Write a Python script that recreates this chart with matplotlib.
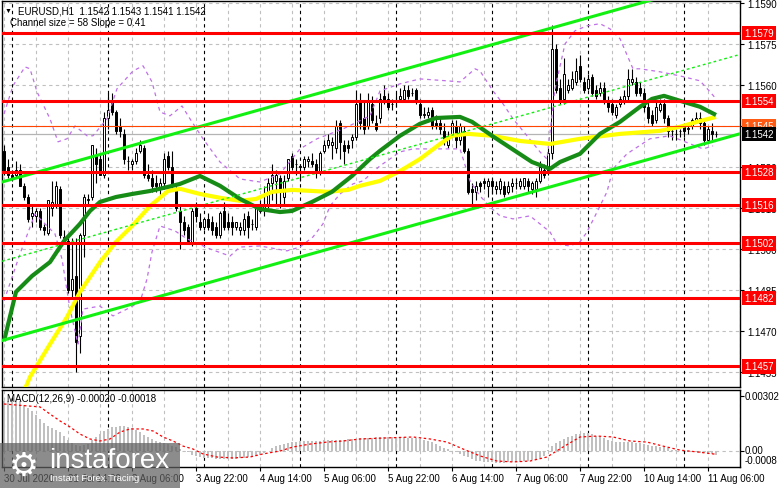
import numpy as np
import matplotlib
matplotlib.use("Agg")
import matplotlib.pyplot as plt
from matplotlib.transforms import blended_transform_factory
from matplotlib.patches import Rectangle

plt.rcParams['font.family'] = ['Liberation Sans', 'DejaVu Sans']

W, H = 781, 489

# EURUSD H1 candles, bar 0 = 30 Jul 22:00 ... bar 178 = 11 Aug 08:00
opens = [1.1536, 1.1530, 1.1527, 1.1527, 1.1529, 1.1523, 1.1519, 1.1512, 1.1512, 1.1514,
         1.1508, 1.1506, 1.1515, 1.1516, 1.1522, 1.1504, 1.1503, 1.1485, 1.1490, 1.1468,
         1.1505, 1.1518, 1.1519, 1.1534, 1.1533, 1.1527, 1.1548, 1.1554, 1.1550, 1.1545,
         1.1542, 1.1532, 1.1531, 1.1532, 1.1536, 1.1537, 1.1527, 1.1526, 1.1524, 1.1522,
         1.1524, 1.1534, 1.1530, 1.1522, 1.1514, 1.1510, 1.1508, 1.1502, 1.1515, 1.1510,
         1.1508, 1.1511, 1.1510, 1.1508, 1.1505, 1.1514, 1.1510, 1.1510, 1.1508, 1.1507,
         1.1507, 1.1512, 1.1509, 1.1508, 1.1514, 1.1515, 1.1516, 1.1524, 1.1525, 1.1526,
         1.1519, 1.1526, 1.1534, 1.1531, 1.1530, 1.1530, 1.1532, 1.1532, 1.1531, 1.1528,
         1.1536, 1.1538, 1.1538, 1.1537, 1.1546, 1.1538, 1.1538, 1.1540, 1.1541, 1.1554,
         1.1548, 1.1545, 1.1553, 1.1546, 1.1548, 1.1556, 1.1555, 1.1553, 1.1554, 1.1555,
         1.1555, 1.1558, 1.1557, 1.1558, 1.1553, 1.1549, 1.1549, 1.1551, 1.1546, 1.1546,
         1.1543, 1.1538, 1.1542, 1.1545, 1.1540, 1.1543, 1.1536, 1.1522, 1.1521, 1.1524,
         1.1525, 1.1523, 1.1525, 1.1522, 1.1522, 1.1523, 1.1521, 1.1523, 1.1524, 1.1523,
         1.1523, 1.1525, 1.1522, 1.1522, 1.1525, 1.1529, 1.1529, 1.1535, 1.1573, 1.1559,
         1.1555, 1.1558, 1.1559, 1.1561, 1.1567, 1.1561, 1.1559, 1.1563, 1.1558, 1.1557,
         1.1559, 1.1554, 1.1553, 1.1549, 1.1553, 1.1554, 1.1556, 1.1561, 1.1561, 1.1559,
         1.1557, 1.1552, 1.1549, 1.1547, 1.1551, 1.1553, 1.1548, 1.1543, 1.1542, 1.1543,
         1.1545, 1.1544, 1.1545, 1.1547, 1.1548, 1.1546, 1.1540, 1.1543, 1.1542]
highs = [1.1538, 1.1533, 1.1529, 1.1532, 1.1531, 1.1524, 1.1520, 1.1516, 1.1515, 1.1515,
         1.1509, 1.1518, 1.1525, 1.1525, 1.1523, 1.1507, 1.1504, 1.1504, 1.1504, 1.1506,
         1.1520, 1.1520, 1.1538, 1.1537, 1.1535, 1.1550, 1.1557, 1.1557, 1.1551, 1.1548,
         1.1544, 1.1534, 1.1533, 1.1537, 1.1540, 1.1538, 1.1531, 1.1529, 1.1527, 1.1526,
         1.1535, 1.1536, 1.1536, 1.1524, 1.1516, 1.1512, 1.1509, 1.1515, 1.1517, 1.1513,
         1.1511, 1.1513, 1.1512, 1.1510, 1.1514, 1.1517, 1.1513, 1.1512, 1.1510, 1.1510,
         1.1513, 1.1514, 1.1511, 1.1516, 1.1518, 1.1523, 1.1526, 1.1531, 1.1529, 1.1527,
         1.1527, 1.1533, 1.1535, 1.1533, 1.1531, 1.1534, 1.1534, 1.1535, 1.1533, 1.1536,
         1.1540, 1.1542, 1.1541, 1.1547, 1.1547, 1.1540, 1.1540, 1.1542, 1.1558, 1.1557,
         1.1554, 1.1557, 1.1556, 1.1549, 1.1557, 1.1560, 1.1557, 1.1555, 1.1557, 1.1559,
         1.1560, 1.1560, 1.1559, 1.1559, 1.1555, 1.1552, 1.1552, 1.1552, 1.1549, 1.1548,
         1.1546, 1.1543, 1.1547, 1.1547, 1.1546, 1.1545, 1.1537, 1.1524, 1.1525, 1.1525,
         1.1526, 1.1526, 1.1526, 1.1525, 1.1526, 1.1525, 1.1525, 1.1526, 1.1526, 1.1526,
         1.1526, 1.1526, 1.1525, 1.1526, 1.1532, 1.1531, 1.1537, 1.1582, 1.1575, 1.1562,
         1.1570, 1.1562, 1.1565, 1.1570, 1.1571, 1.1563, 1.1564, 1.1564, 1.1560, 1.1561,
         1.1561, 1.1556, 1.1555, 1.1553, 1.1556, 1.1558, 1.1566, 1.1566, 1.1563, 1.1561,
         1.1559, 1.1554, 1.1551, 1.1554, 1.1555, 1.1555, 1.1549, 1.1545, 1.1544, 1.1544,
         1.1546, 1.1546, 1.1548, 1.1550, 1.1550, 1.1548, 1.1545, 1.1546, 1.1543]
lows = [1.1527, 1.1526, 1.1525, 1.1526, 1.1523, 1.1518, 1.1510, 1.1508, 1.1510, 1.1507,
        1.1505, 1.1505, 1.1512, 1.1515, 1.1504, 1.1502, 1.1484, 1.1482, 1.1455, 1.1462,
        1.1497, 1.1516, 1.1518, 1.1524, 1.1527, 1.1526, 1.1544, 1.1549, 1.1542, 1.1541,
        1.1531, 1.1529, 1.1529, 1.1531, 1.1535, 1.1526, 1.1525, 1.1521, 1.1521, 1.1520,
        1.1522, 1.1529, 1.1522, 1.1514, 1.1500, 1.1505, 1.1503, 1.1501, 1.1510, 1.1507,
        1.1507, 1.1507, 1.1505, 1.1504, 1.1504, 1.1507, 1.1507, 1.1505, 1.1507, 1.1505,
        1.1505, 1.1504, 1.1507, 1.1507, 1.1513, 1.1512, 1.1515, 1.1518, 1.1516, 1.1515,
        1.1516, 1.1525, 1.1529, 1.1527, 1.1525, 1.1529, 1.1530, 1.1530, 1.1526, 1.1527,
        1.1535, 1.1537, 1.1533, 1.1535, 1.1533, 1.1531, 1.1535, 1.1537, 1.1540, 1.1544,
        1.1542, 1.1544, 1.1546, 1.1543, 1.1546, 1.1553, 1.1551, 1.1551, 1.1552, 1.1554,
        1.1554, 1.1555, 1.1556, 1.1553, 1.1548, 1.1548, 1.1548, 1.1544, 1.1544, 1.1542,
        1.1538, 1.1537, 1.1541, 1.1537, 1.1538, 1.1535, 1.1520, 1.1515, 1.1518, 1.1521,
        1.1522, 1.1519, 1.1520, 1.1520, 1.1520, 1.1519, 1.1520, 1.1521, 1.1522, 1.1522,
        1.1522, 1.1521, 1.1520, 1.1519, 1.1524, 1.1526, 1.1527, 1.1533, 1.1557, 1.1553,
        1.1553, 1.1557, 1.1558, 1.1560, 1.1561, 1.1557, 1.1558, 1.1556, 1.1555, 1.1556,
        1.1553, 1.1550, 1.1549, 1.1548, 1.1552, 1.1553, 1.1554, 1.1560, 1.1556, 1.1556,
        1.1550, 1.1546, 1.1545, 1.1546, 1.1550, 1.1546, 1.1541, 1.1540, 1.1540, 1.1541,
        1.1541, 1.1542, 1.1544, 1.1546, 1.1544, 1.1538, 1.1539, 1.1540, 1.1541]
closes = [1.1529, 1.1527, 1.1526, 1.1529, 1.1523, 1.1519, 1.1511, 1.1513, 1.1514, 1.1508,
          1.1507, 1.1518, 1.1517, 1.1523, 1.1505, 1.1504, 1.1485, 1.1489, 1.1466, 1.1505,
          1.1519, 1.1518, 1.1538, 1.1531, 1.1527, 1.1548, 1.1551, 1.1550, 1.1543, 1.1543,
          1.1533, 1.1532, 1.1532, 1.1535, 1.1538, 1.1527, 1.1526, 1.1523, 1.1523, 1.1524,
          1.1533, 1.1530, 1.1523, 1.1515, 1.1510, 1.1507, 1.1503, 1.1514, 1.1512, 1.1508,
          1.1511, 1.1508, 1.1507, 1.1505, 1.1513, 1.1508, 1.1508, 1.1508, 1.1510, 1.1508,
          1.1511, 1.1508, 1.1509, 1.1515, 1.1516, 1.1516, 1.1524, 1.1527, 1.1527, 1.1521,
          1.1525, 1.1533, 1.1530, 1.1531, 1.1530, 1.1533, 1.1533, 1.1531, 1.1528, 1.1535,
          1.1538, 1.1540, 1.1539, 1.1545, 1.1539, 1.1536, 1.1537, 1.1541, 1.1553, 1.1546,
          1.1544, 1.1554, 1.1547, 1.1544, 1.1555, 1.1554, 1.1552, 1.1553, 1.1554, 1.1556,
          1.1558, 1.1556, 1.1557, 1.1554, 1.1549, 1.1549, 1.1550, 1.1545, 1.1545, 1.1544,
          1.1540, 1.1541, 1.1546, 1.1540, 1.1545, 1.1536, 1.1521, 1.1521, 1.1523, 1.1523,
          1.1524, 1.1525, 1.1523, 1.1523, 1.1525, 1.1520, 1.1523, 1.1524, 1.1524, 1.1525,
          1.1526, 1.1523, 1.1524, 1.1525, 1.1530, 1.1527, 1.1535, 1.1573, 1.1558, 1.1554,
          1.1564, 1.1560, 1.1562, 1.1565, 1.1562, 1.1558, 1.1562, 1.1557, 1.1556, 1.1559,
          1.1554, 1.1552, 1.1550, 1.1552, 1.1555, 1.1556, 1.1562, 1.1562, 1.1557, 1.1557,
          1.1552, 1.1548, 1.1546, 1.1552, 1.1553, 1.1548, 1.1543, 1.1543, 1.1542, 1.1543,
          1.1543, 1.1544, 1.1547, 1.1548, 1.1546, 1.1540, 1.1544, 1.1542, 1.1542]

# moving averages (bar, price)
green_i = [0, 3, 7, 11.5, 15, 19, 21.5, 24, 28, 32, 36.5, 41, 44, 49, 54, 59, 64, 69, 72, 77,
           82, 87, 91.5, 94, 99, 104, 108, 114, 117, 122, 127, 132, 136.5, 139, 144, 149, 154,
           159, 162, 165, 169, 174, 178]
green_p = [1.14663, 1.14843, 1.14901, 1.14952, 1.15029, 1.15092, 1.15139, 1.15172, 1.15190,
           1.15201, 1.15212, 1.15227, 1.15238, 1.15267, 1.15231, 1.15183, 1.15146, 1.15135,
           1.15139, 1.15172, 1.15209, 1.15267, 1.15329, 1.15359, 1.15414, 1.15458, 1.15479,
           1.15483, 1.15465, 1.15414, 1.15366, 1.15318, 1.15293, 1.15318, 1.15348, 1.15421,
           1.15465, 1.15520, 1.15549, 1.15560, 1.15542, 1.15520, 1.15490]
yellow_i = [5, 6.5, 11.5, 15.75, 19, 24, 28, 32, 36.5, 41, 44, 49, 54, 59, 63, 67, 72, 81, 86,
            89, 94, 99, 104, 109, 112, 116, 122, 129, 136.5, 144, 154, 164, 169, 174, 178]
yellow_p = [1.14480, 1.14532, 1.14652, 1.14751, 1.14843, 1.14952, 1.15026, 1.15084, 1.15157,
            1.15212, 1.15220, 1.15201, 1.15187, 1.15176, 1.15183, 1.15209, 1.15216, 1.15209,
            1.15216, 1.15231, 1.15249, 1.15285, 1.15329, 1.15384, 1.15414, 1.15421, 1.15414,
            1.15395, 1.15384, 1.15403, 1.15421, 1.15432, 1.15447, 1.15468, 1.15483]

# bands
bb_up_i = [0, 2.25, 5.25, 6.5, 8.25, 11.5, 13.5, 15.75, 17.75, 20.75, 22.25, 25.75, 28.25,
           32.25, 34.75, 37, 39, 41.5, 44.5, 46.5, 49.75, 54, 59, 64, 69, 74, 78.25, 84.75,
           91.5, 94, 99, 104, 110.75, 114, 117.75, 119, 122.25, 124.75, 127.25, 130.75, 134,
           135.75, 137.75, 140.25, 142.75, 145.75, 149, 151.5, 154, 157.25, 159, 164, 169,
           174, 176.5, 178]
bb_up_p = [1.15494, 1.15597, 1.15666, 1.15659, 1.15575, 1.15476, 1.15392, 1.15403, 1.15450,
           1.15414, 1.15414, 1.15476, 1.15586, 1.15651, 1.15670, 1.15611, 1.15501, 1.15487,
           1.15523, 1.15476, 1.15403, 1.15318, 1.15256, 1.15245, 1.15275, 1.15366, 1.15403,
           1.15439, 1.15487, 1.15578, 1.15604, 1.15622, 1.15615, 1.15611, 1.15659, 1.15651,
           1.15578, 1.15531, 1.15476, 1.15414, 1.15355, 1.15329, 1.15586, 1.15750, 1.15798,
           1.15816, 1.15824, 1.15805, 1.15769, 1.15659, 1.15659, 1.15648, 1.15633, 1.15615,
           1.15575, 1.15549]
bb_lo_i = [0, 4, 7.75, 10.25, 12.75, 14.5, 16.5, 18.5, 19.75, 24, 27.25, 30.75, 34, 35.75,
           37, 39, 42.75, 45.75, 51.5, 56.5, 59, 64, 70.75, 74, 77.25, 79.75, 81.5, 84, 87.25,
           89.75, 94, 99, 102.25, 109, 114, 116.5, 119, 121.5, 124, 127.25, 131.5, 136.5,
           138.25, 141.5, 144, 145.75, 148.25, 150.75, 152.25, 155.75, 161.5, 166.5, 169.75,
           174.75, 177.25]
bb_lo_p = [1.14810, 1.14982, 1.15128, 1.15092, 1.15055, 1.14963, 1.14780, 1.14652, 1.14780,
           1.14791, 1.14755, 1.14780, 1.14806, 1.14890, 1.14989, 1.15084, 1.15066, 1.15037,
           1.15000, 1.14974, 1.15007, 1.15011, 1.14993, 1.15007, 1.15044, 1.15092, 1.15157,
           1.15201, 1.15238, 1.15249, 1.15304, 1.15355, 1.15366, 1.15366, 1.15366, 1.15249,
           1.15194, 1.15154, 1.15121, 1.15110, 1.15121, 1.15062, 1.15018, 1.15011, 1.15026,
           1.15062, 1.15135, 1.15209, 1.15293, 1.15348, 1.15403, 1.15414, 1.15395, 1.15366,
           1.15377]

# regression channel
channel_low0 = 1.14667
channel_slope = 0.000041
channel_size = 0.0058

levels = [1.1579, 1.1554, 1.1528, 1.1516, 1.1502, 1.1482, 1.1457]
level_orange = 1.1545
last_price = 1.1542
price_ticks = [1.1455, 1.1470, 1.1485, 1.1500, 1.1515, 1.1530, 1.1545, 1.1560, 1.1575, 1.1590]

# MACD histogram and signal
macd_hist = [0.00276, 0.00275, 0.00274, 0.00273, 0.00272, 0.00255, 0.00238, 0.00220, 0.00198, 0.00176,
             0.00155, 0.00135, 0.00124, 0.00114, 0.00104, 0.00082, 0.00062, 0.00042, 0.00032, 0.00027,
             0.00032, 0.00038, 0.00060, 0.00078, 0.00093, 0.00110, 0.00122, 0.00130, 0.00134, 0.00137,
             0.00135, 0.00131, 0.00124, 0.00114, 0.00104, 0.00090, 0.00078, 0.00068, 0.00057, 0.00049,
             0.00042, 0.00036, 0.00029, 0.00020, 0.00011, 0.00002, -0.00006, -0.00020, -0.00029, -0.00033,
             -0.00036, -0.00038, -0.00041, -0.00044, -0.00044, -0.00044, -0.00044, -0.00044, -0.00043, -0.00040,
             -0.00037, -0.00034, -0.00031, -0.00027, -0.00022, -0.00012, -0.00002, 0.00015, 0.00027, 0.00035,
             0.00040, 0.00045, 0.00049, 0.00052, 0.00055, 0.00055, 0.00055, 0.00055, 0.00056, 0.00057,
             0.00058, 0.00059, 0.00060, 0.00061, 0.00062, 0.00063, 0.00065, 0.00067, 0.00068, 0.00069,
             0.00070, 0.00072, 0.00073, 0.00075, 0.00076, 0.00077, 0.00077, 0.00077, 0.00077, 0.00077,
             0.00075, 0.00073, 0.00071, 0.00069, 0.00066, 0.00060, 0.00055, 0.00049, 0.00038, 0.00027,
             0.00018, 0.00010, 0.00002, -0.00008, -0.00016, -0.00025, -0.00035, -0.00045, -0.00053, -0.00056,
             -0.00058, -0.00060, -0.00063, -0.00066, -0.00066, -0.00065, -0.00063, -0.00061, -0.00060, -0.00059,
             -0.00057, -0.00056, -0.00052, -0.00045, -0.00038, -0.00030, 0.00005, 0.00030, 0.00044, 0.00055,
             0.00066, 0.00075, 0.00084, 0.00092, 0.00096, 0.00099, 0.00097, 0.00093, 0.00085, 0.00077,
             0.00070, 0.00062, 0.00055, 0.00052, 0.00049, 0.00049, 0.00049, 0.00049, 0.00045, 0.00042,
             0.00038, 0.00033, 0.00029, 0.00026, 0.00024, 0.00021, 0.00015, 0.00008, 0.00003, 0.00001,
             0.00000, -0.00003, -0.00005, -0.00008, -0.00010, -0.00011, -0.00013, -0.00016, -0.00020]
sig_i = [0, 9, 11.5, 14, 16.5, 19, 21.5, 24, 26.5, 29, 31.5, 34.75, 37.25, 39.75, 42.25, 44.75,
         47.25, 49.75, 53.25, 57.25, 61.5, 64.75, 69, 72.25, 76.5, 80.75, 84.75, 89, 94.75,
         102.25, 106.5, 110.75, 114.75, 119, 123.25, 127.25, 131.5, 135.75, 139.75, 144, 148.25,
         152.25, 156.5, 160.75, 164.75, 169, 173.25, 178]
sig_v = [0.00258, 0.00242, 0.00203, 0.00165, 0.00132, 0.00093, 0.00066, 0.00055, 0.00066, 0.00104,
         0.00121, 0.00121, 0.00110, 0.00077, 0.00055, 0.00027, 0.00011, -0.00016, -0.00033, -0.00038,
         -0.00033, -0.00016, 0.00000, 0.00022, 0.00038, 0.00049, 0.00055, 0.00066, 0.00071, 0.00077,
         0.00066, 0.00049, 0.00011, -0.00027, -0.00055, -0.00060, -0.00055, -0.00033, 0.00022, 0.00077,
         0.00082, 0.00077, 0.00055, 0.00049, 0.00027, 0.00005, -0.00005, -0.00018]

tick_bars = [0, 16, 32, 48, 64, 80, 96, 112, 128, 144, 160, 176]
tick_labels = ['30 Jul 2020', '31 Jul 14:00', '3 Aug 06:00', '3 Aug 22:00', '4 Aug 14:00',
               '5 Aug 06:00', '5 Aug 22:00', '6 Aug 14:00', '7 Aug 06:00', '7 Aug 22:00',
               '10 Aug 14:00', '11 Aug 06:00']
day_starts = [2, 26, 50, 74, 98, 122, 146, 170]

o = np.array(opens); h = np.array(highs); l = np.array(lows); c = np.array(closes)
idx = np.arange(len(c))

fig = plt.figure(figsize=(W / 100, H / 100), dpi=100)
fig.patch.set_facecolor('white')
ax = fig.add_axes([2 / W, 1 - 388 / H, 738 / W, 386 / H])
ax2 = fig.add_axes([2 / W, 1 - 468 / H, 738 / W, 77 / H])

grid_c = '#c0c0c0'
dash = (0, (3, 3))
for a in (ax, ax2):
    a.set_xlim(-0.5, 184)
    for s in a.spines.values():
        s.set_color('black')
        s.set_linewidth(1.0)
    for g in range(0, 185, 8):
        a.axvline(g, color=grid_c, lw=0.8, ls=dash, zorder=0)
    for d in day_starts:
        a.axvline(d, color='black', lw=0.8, ls=dash, zorder=0.5)

# main chart
ax.set_ylim(1.14495, 1.15907)
for p in price_ticks:
    ax.axhline(p, color=grid_c, lw=0.8, ls=dash, zorder=0)
ax.axhline(last_price, color='#b4b4b4', lw=0.9, zorder=0.6)

up = c >= o
body_lo = np.minimum(o, c)
body_h = np.maximum(np.abs(c - o), 0.00002)
ax.vlines(idx, l, h, color='black', lw=0.8, zorder=2)
ax.bar(idx[up], body_h[up], bottom=body_lo[up], width=0.5, color='white',
       edgecolor='black', linewidth=0.7, zorder=3)
ax.bar(idx[~up], body_h[~up], bottom=body_lo[~up], width=0.5, color='black',
       edgecolor='black', linewidth=0.7, zorder=3)

purple = '#c070e8'
ax.plot(bb_up_i, bb_up_p, color=purple, lw=0.9, ls=dash, zorder=4)
ax.plot(bb_lo_i, bb_lo_p, color=purple, lw=0.9, ls=dash, zorder=4)
ax.plot(yellow_i, yellow_p, color='#ffff00', lw=3.0, zorder=5, solid_capstyle='butt')
ax.plot(green_i, green_p, color='#168c16', lw=3.0, zorder=6, solid_capstyle='butt')

cx = np.array([-0.5, 184])
c_low = channel_low0 + channel_slope * cx
ax.plot(cx, c_low, color='#11f011', lw=2.2, zorder=7)
ax.plot(cx, c_low + channel_size, color='#11f011', lw=2.2, zorder=7)
ax.plot(cx, c_low + channel_size / 2, color='#11f011', lw=1.0, ls=(0, (2, 2)), zorder=7)

for p in levels:
    ax.axhline(p, color='#ff0000', lw=2.2, zorder=8)
ax.axhline(level_orange, color='#ff4500', lw=0.8, zorder=8)

ax.set_xticks([])
ax.yaxis.tick_right()
ax.set_yticks(price_ticks)
ax.set_yticklabels(['%.4f' % p for p in price_ticks])
ax.tick_params(axis='y', labelsize=7, length=3, pad=2, colors='black')

tr = blended_transform_factory(ax.transAxes, ax.transData)
box_x = (744.5 - 2) / 738
for p in levels:
    ax.text(box_x, p, '%.4f' % p, transform=tr, ha='left', va='center', fontsize=7,
            color='white', clip_on=False, zorder=10,
            bbox=dict(boxstyle='square,pad=0.22', fc='#ff0000', ec='none'))
ax.text(box_x, level_orange, '%.4f' % level_orange, transform=tr, ha='left', va='center',
        fontsize=7, color='white', clip_on=False, zorder=10,
        bbox=dict(boxstyle='square,pad=0.22', fc='#ff5a14', ec='none'))
ax.text(box_x, last_price, '%.4f' % last_price, transform=tr, ha='left', va='center',
        fontsize=7, color='white', clip_on=False, zorder=11,
        bbox=dict(boxstyle='square,pad=0.22', fc='black', ec='none'))

fig.text(8 / W, 1 - 11 / H, '\u25bc', fontsize=5, ha='center', va='center', color='black')
fig.text(18 / W, 1 - 11 / H, 'EURUSD,H1  1.1542 1.1543 1.1541 1.1542', fontsize=7,
         ha='left', va='center', color='black')
fig.text(10 / W, 1 - 23 / H, 'Channel size = 58 Slope = 0.41', fontsize=7,
         ha='left', va='center', color='black')

# MACD
ax2.set_ylim(-0.000878, 0.003349)
ax2.axhline(0, color=grid_c, lw=0.8, ls=dash, zorder=0)
ax2.bar(idx, macd_hist, width=0.7, color='#c0c0c0', zorder=2)
ax2.plot(sig_i, sig_v, color='#ff0000', lw=0.9, ls=(0, (2, 2)), zorder=3)
ax2.yaxis.tick_right()
ax2.set_yticks([0.00302, 0.0])
ax2.set_yticklabels([])
ax2.tick_params(axis='y', length=3)
tr2 = blended_transform_factory(ax2.transAxes, ax2.transData)
lab_x = (745 - 2) / 738
ax2.text(lab_x, 0.00302, '0.00302', transform=tr2, fontsize=7, ha='left', va='center', clip_on=False)
ax2.text(lab_x, 0.00003, '0.00', transform=tr2, fontsize=7, ha='left', va='center', clip_on=False)
ax2.text(lab_x, -0.00050, '-0.0008', transform=tr2, fontsize=7, ha='left', va='center', clip_on=False)
ax2.set_xticks(tick_bars)
ax2.set_xticklabels(tick_labels)
ax2.tick_params(axis='x', labelsize=7, length=3, pad=1.5)
for t in ax2.get_xticklabels():
    t.set_ha('left')
fig.text(7 / W, 1 - 399 / H, 'MACD(12,26,9) -0.00020 -0.00018', fontsize=7,
         ha='left', va='center', color='black')

# watermark
fig.add_artist(Rectangle((0, 0), 180 / W, 45 / H, transform=fig.transFigure,
                         fc='#606060', ec='none', alpha=0.72, zorder=20))
fig.text(24 / W, 1 - 466 / H, '\u2699', fontsize=24, ha='center', va='center',
         color='white', family='DejaVu Sans', zorder=21)
fig.text(49 / W, 1 - 468 / H, 'instaforex', fontsize=20, ha='left', va='baseline',
         color='white', zorder=21)
fig.text(50 / W, 1 - 479 / H, 'Instant Forex Tracing', fontsize=6.8, ha='left', va='center',
         color='white', zorder=21)

fig.savefig('out.png', dpi=100)
